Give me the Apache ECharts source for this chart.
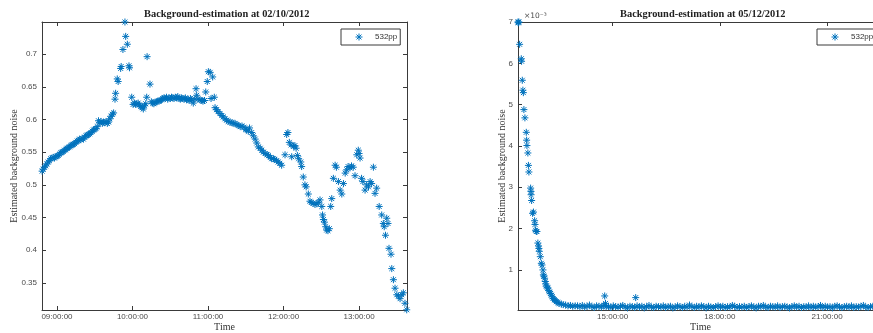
<!DOCTYPE html>
<html><head><meta charset="utf-8">
<script src="https://cdn.jsdelivr.net/npm/echarts@6/dist/echarts.min.js"></script>
<style>html,body{margin:0;padding:0;background:#fff}#c{width:873px;height:333px}</style>
</head><body><div id="c"></div>
<script>
// ---------- Left panel: 02/10/2012 (time = minutes after 09:00) ----------
const leftTimes = [
 -11.8,-11,-10,-9,-8,-7,-6,-5,-4,-3,-2,-1,0,1,2,3,4,5,6,7,8,9,10,11,12,13,14,15,16,17,18,19,20,21,22,23,24,25,26,27,28,29,30,31,32,
 33,34,35,36,37,38,39,40,41,42,43,44,45,
 46.1,46.6,47.9,48.6,50.6,51,52.4,54,54.6,55.9,57.2,57.6,59.4,
 60.5,61.5,62.5,63.5,64.5,65.5,66.5,67.5,68.6,69.5,70.5,71.3,71.6,73.9,75,76,77,78,79,80,81,82,83,84,85,86,87,88,89,90,
 91,92,93,94,95,96,97,98,99,100,101,102,103,104,105,106,107,108.3,109.5,110.5,111,112,113.7,115,116,117.2,118.2,119.4,120.3,
 121.7,122.4,123.7,125,125.6,126.8,128,129.5,131,132,133.5,134.8,136,137.5,139,140,141.5,143,144,145.6,147,148.5,150,150.7,
 152,153,154.7,156,157.5,158.7,160,161.5,162.7,164,165.4,167,168,169.5,170.6,172,173,174.5,175.7,177,178.5,
 181.2,182.5,183.5,184.6,186,186.5,188,189,190,191,192,193.7,194.4,195.7,197,198,199.7,201,202,203.5,205,206.5,207.5,209,
 210.4,211,211.7,212.5,213.5,214.3,215.3,216.4,217.5,218.3,219.6,221,222,223.6,225,226.3,227.6,229,230.2,231.3,232.8,234,
 235.4,236.8,238.2,239.4,240,240.8,242,243,244.8,246,247.5,248.8,250,251.4,252.7,254,256,258,259.3,260,261,262,263,263.8,
 265.4,266,267.3,268.6,270,271.3,272.6,274,275.2,276.5,277.9
];
const leftValues = [
 0.521,0.524,0.527,0.529,0.532,0.535,0.537,0.540,0.541,0.542,0.541,0.543,0.544,0.545,0.547,0.549,0.550,0.551,0.553,0.554,0.556,0.557,0.558,0.560,0.561,0.562,0.563,0.565,0.567,0.568,0.570,0.569,0.571,0.570,0.573,0.575,0.576,0.577,0.578,0.580,0.582,0.584,0.585,0.586,0.589,
 0.598,0.595,0.597,0.594,0.596,0.595,0.597,0.594,0.596,0.601,0.605,0.608,0.610,
 0.631,0.640,0.662,0.658,0.678,0.681,0.707,0.749,0.727,0.715,0.682,0.679,0.634,
 0.623,0.625,0.623,0.624,0.625,0.622,0.620,0.618,0.616,0.621,0.624,0.634,0.696,0.654,0.627,0.625,0.624,0.626,0.627,0.628,0.628,0.629,0.630,0.632,0.633,0.632,0.634,0.631,0.633,0.632,
 0.634,0.633,0.632,0.634,0.633,0.635,0.632,0.631,0.633,0.632,0.631,0.633,0.630,0.631,0.629,0.632,0.630,0.625,0.631,0.647,0.637,0.631,0.630,0.629,0.628,0.629,0.642,0.658,0.673,
 0.672,0.632,0.665,0.634,0.618,0.615,0.612,0.609,0.606,0.604,0.601,0.599,0.597,0.596,0.595,0.594,0.594,0.592,0.591,0.589,0.590,0.588,0.585,0.584,
 0.582,0.587,0.580,0.575,0.570,0.564,0.558,0.556,0.553,0.550,0.548,0.546,0.545,0.542,0.540,0.540,0.539,0.537,0.535,0.533,0.530,
 0.546,0.577,0.580,0.565,0.561,0.543,0.559,0.560,0.556,0.545,0.540,0.535,0.528,0.512,0.500,0.497,0.486,0.475,0.473,0.472,0.470,0.471,0.473,0.477,
 0.467,0.454,0.447,0.443,0.436,0.431,0.430,0.433,0.467,0.479,0.510,0.530,0.527,0.505,0.492,0.486,0.502,0.518,0.523,0.528,0.526,0.529,
 0.527,0.514,0.546,0.553,0.548,0.541,0.510,0.505,0.492,0.500,0.497,0.505,0.502,0.527,0.487,0.495,0.467,0.454,0.441,0.436,0.423,0.449,0.441,0.403,
 0.394,0.372,0.355,0.342,0.332,0.330,0.326,0.332,0.335,0.319,0.309
];
const leftXTicks = [0, 60, 120, 180, 240];
const leftYTicks = [0.35, 0.4, 0.45, 0.5, 0.55, 0.6, 0.65, 0.7];

// ---------- Right panel: 05/12/2012 (time = minutes after 12:00, values ×10^-3) ----------
const rightDecayTimes = [21,21.5,22.5,23.7,26.5,27,28.2,29.2,30,30.9,32.6,34.9,35.5,36,37.6,38.5,39.3,42.2,42.8,43,43.9,45.5,47,48.9,49.6,50.5,51.7,52.8,54.4,55.5,56.1,56.7,58.5,60.2,61.3,62.9,63.6,64.5,65.7,66.8,67.5,68.5,70,71.3,72.5,74.1,75.5,77,78.5,79.8,82,83.5,85.4,88,90,93.8,97,101,105,109,113,117];
const rightDecayValues = [7.0,6.98,7.0,6.46,6.11,6.05,5.59,5.35,5.29,4.88,4.68,4.33,4.14,4.01,3.83,3.53,3.37,2.98,2.90,2.82,2.68,2.37,2.40,2.19,2.10,1.96,1.93,1.93,1.65,1.58,1.52,1.45,1.32,1.16,1.12,1.00,0.88,0.85,0.80,0.72,0.66,0.61,0.58,0.56,0.50,0.47,0.43,0.39,0.35,0.31,0.28,0.26,0.23,0.21,0.19,0.17,0.16,0.15,0.13,0.14,0.12,0.13];
const rightFlatTimes = [121,125,129,133,137,141,145,149,153,157,161,165,169,173,177,181,185,189,193,197,
 201,205,209,213,217,221,225,229,233,237,241,245,249,253,257,261,265,269,273,277,281,285,289,293,297,
 301,305,309,313,317,321,325,329,333,337,341,345,349,353,357,361,365,369,373,377,381,385,389,393,397,
 401,405,409,413,417,421,425,429,433,437,441,445,449,453,457,461,465,469,473,477,481,485,489,493,497,
 501,505,509,513,517,521,525,529,533,537,541,545,549,553,557,561,565,569,573,577,581,585,589,593,597,601,605,609,613,617,621,625,629,633];
const rightFlatValues = [0.13,0.11,0.14,0.10,0.12,0.15,0.11,0.09,0.13,0.12,0.10,0.14,0.11,0.12,0.09,0.13,0.11,0.10,0.12,0.14,
 0.10,0.08,0.12,0.11,0.09,0.13,0.10,0.12,0.08,0.11,0.14,0.10,0.09,0.12,0.11,0.10,0.13,0.09,0.11,0.12,0.08,0.10,0.13,0.11,0.09,
 0.12,0.10,0.15,0.11,0.09,0.12,0.10,0.13,0.11,0.08,0.12,0.10,0.09,0.11,0.13,0.10,0.12,0.09,0.11,0.10,0.14,0.12,0.09,0.11,0.10,
 0.12,0.09,0.11,0.13,0.10,0.08,0.12,0.11,0.14,0.10,0.09,0.12,0.11,0.10,0.13,0.09,0.11,0.12,0.10,0.08,0.11,0.13,0.10,0.12,0.09,
 0.11,0.10,0.13,0.09,0.12,0.10,0.11,0.14,0.09,0.12,0.10,0.11,0.08,0.12,0.13,0.10,0.09,0.11,0.12,0.10,0.13,0.09,0.11,0.10,0.12,0.14,0.10,0.09,0.11,0.12,0.10,0.13,0.09,0.11];
const rightOutlierTimes = [166.6, 168, 218.7];
const rightOutlierValues = [0.37, 0.19, 0.33];
const rightXTicks = [180, 360, 540];
const rightYTicks = [1, 2, 3, 4, 5, 6, 7];

const seriesName = '532pp';
const titles = ['02/10/2012', '05/12/2012'];

// ---------- build ----------
const zip = (a, b) => a.map((x, i) => [x, b[i]]);
const leftData = zip(leftTimes, leftValues);
const rightData = zip(rightDecayTimes, rightDecayValues)
  .concat(zip(rightFlatTimes, rightFlatValues))
  .concat(zip(rightOutlierTimes, rightOutlierValues));

const BLUE = '#0072BD', AX = '#3a3a3a', LBL = '#4a4a4a';
const STAR = 'path://M0,5L10,5M5,0L5,10M1.5,1.5L8.5,8.5M8.5,1.5L1.5,8.5';
const SANS = "'Liberation Sans', Arial, sans-serif";
const SERIF = "'Liberation Serif', 'DejaVu Serif', serif";
const pad = n => (n < 10 ? '0' : '') + n;
const fmt = base => v => pad(base + Math.round(v / 60)) + ':00:00';

function xAxes(gi, min, max, ticks, base) {
  const common = { gridIndex: gi, type: 'value', min, max, splitLine: { show: false },
    axisLine: { show: true, onZero: false, lineStyle: { color: AX, width: 1 } } };
  return [
    Object.assign({}, common, { position: 'bottom',
      axisTick: { show: true, inside: true, length: 4, lineStyle: { color: AX }, customValues: ticks },
      axisLabel: { show: true, customValues: ticks, formatter: fmt(base), fontFamily: SANS, fontSize: 8, color: LBL, margin: 3 },
      name: 'Time', nameLocation: 'middle', nameGap: 12, nameMoveOverlap: false,
      nameTextStyle: { fontFamily: SERIF, fontSize: 10, color: '#333', verticalAlign: 'top', lineHeight: 10 } }),
    Object.assign({}, common, { position: 'top',
      axisTick: { show: true, inside: true, length: 4, lineStyle: { color: AX }, customValues: ticks },
      axisLabel: { show: false } })
  ];
}
function yAxes(gi, min, max, ticks, gap) {
  const common = { gridIndex: gi, type: 'value', min, max, splitLine: { show: false },
    axisLine: { show: true, onZero: false, lineStyle: { color: AX, width: 1 } } };
  return [
    Object.assign({}, common, { position: 'left',
      axisTick: { show: true, inside: true, length: 4, lineStyle: { color: AX }, customValues: ticks },
      axisLabel: { show: true, customValues: ticks, fontFamily: SANS, fontSize: 8, color: LBL, margin: 5 },
      name: 'Estimated background noise', nameLocation: 'middle', nameRotate: 90, nameGap: gap, nameMoveOverlap: false,
      nameTextStyle: { fontFamily: SERIF, fontSize: 10, color: '#333' } }),
    Object.assign({}, common, { position: 'right',
      axisTick: { show: true, inside: true, length: 4, lineStyle: { color: AX }, customValues: ticks },
      axisLabel: { show: false } })
  ];
}
function legend(left) {
  return { left, top: 29, orient: 'horizontal', data: [{ name: seriesName, icon: STAR }], icon: STAR,
    selectedMode: false, backgroundColor: '#fff', borderColor: AX, borderWidth: 1, borderRadius: 0,
    padding: [2, 3, 2, 12], itemWidth: 10, itemHeight: 7,
    itemStyle: { color: 'none', borderColor: BLUE, borderWidth: 1 },
    textStyle: { fontFamily: SANS, fontSize: 8, color: '#333', padding: [0, 0, 0, 6], lineHeight: 9 } };
}
const rich = { b: { fontFamily: SERIF, fontWeight: 'bold', fontSize: 10.4, color: '#222' },
               n: { fontFamily: SERIF, fontSize: 10.4, color: '#222' } };

const option = {
  animation: false,
  backgroundColor: '#fff',
  title: [
    { left: 139, top: 4, text: '{b|Background-estimation at }{n|' + titles[0] + '}', textStyle: { rich } },
    { left: 615, top: 4, text: '{b|Background-estimation at }{n|' + titles[1] + '}', textStyle: { rich } },
    { left: 519, top: 7, text: '×10⁻³', textStyle: { fontFamily: "'DejaVu Sans', sans-serif", fontSize: 7.5, fontWeight: 'normal', color: LBL } }
  ],
  legend: [legend(341), legend(817)],
  grid: [
    { left: 42, top: 22, width: 365, height: 288, outerBoundsMode: 'none', containLabel: false },
    { left: 518, top: 22, width: 365, height: 288, outerBoundsMode: 'none', containLabel: false }
  ],
  xAxis: xAxes(0, -11.9, 278.1, leftXTicks, 9).concat(xAxes(1, 21, 634, rightXTicks, 12)),
  yAxis: yAxes(0, 0.3087, 0.749, leftYTicks, 23).concat(yAxes(1, 0.03, 7.0, rightYTicks, 11)),
  series: [
    { name: seriesName, type: 'scatter', xAxisIndex: 0, yAxisIndex: 0, data: leftData,
      symbol: STAR, symbolSize: 7, clip: false,
      itemStyle: { color: BLUE, borderColor: BLUE, borderWidth: 1, opacity: 1 }, emphasis: { disabled: true } },
    { name: seriesName, type: 'scatter', xAxisIndex: 2, yAxisIndex: 2, data: rightData,
      symbol: STAR, symbolSize: 7, clip: false,
      itemStyle: { color: BLUE, borderColor: BLUE, borderWidth: 1, opacity: 1 }, emphasis: { disabled: true } }
  ]
};
const chart = echarts.init(document.getElementById('c'), null, { renderer: 'canvas' });
chart.setOption(option);
</script>
</body></html>
